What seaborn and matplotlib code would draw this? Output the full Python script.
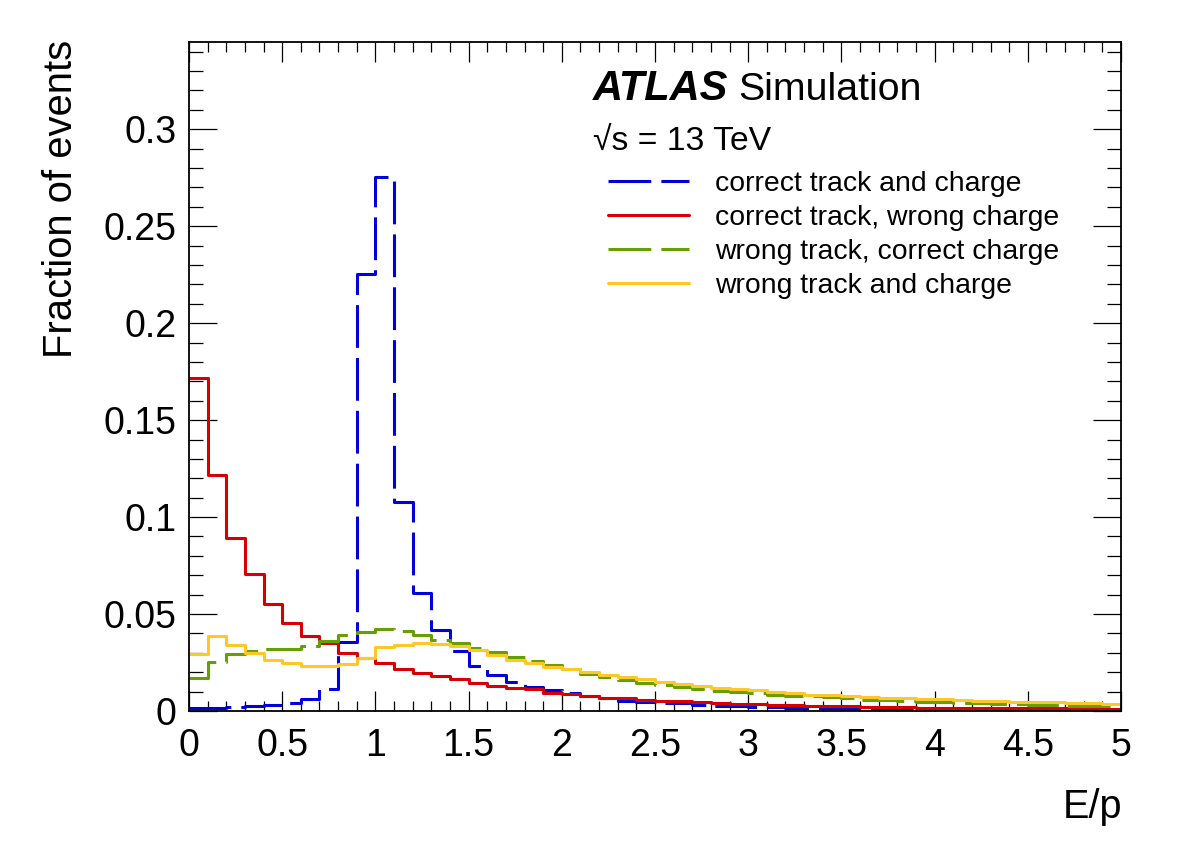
import numpy as np
import pandas as pd
import matplotlib
matplotlib.use("Agg")
import matplotlib.pyplot as plt
import seaborn as sns
from matplotlib.ticker import MultipleLocator, FuncFormatter

sns.set_style("ticks")
plt.rcParams['font.family'] = ['Liberation Sans', 'DejaVu Sans']
plt.rcParams['text.color'] = 'black'
plt.rcParams['xtick.color'] = 'black'
plt.rcParams['ytick.color'] = 'black'

# E/p bins: 50 bins of width 0.1 from 0 to 5
edges = np.linspace(0, 5, 51)
centers = edges[:-1] + 0.05

correct_track_charge = [
    0.0017, 0.0017, 0.0021, 0.0026, 0.0029, 0.0040, 0.0064, 0.0115, 0.0358, 0.2255,
    0.2755, 0.1076, 0.0611, 0.0417, 0.0310, 0.0232, 0.0188, 0.0152, 0.0126, 0.0108,
    0.0091, 0.0077, 0.0065, 0.0053, 0.0045, 0.0043, 0.0040, 0.0031, 0.0027, 0.0026,
    0.0022, 0.0019, 0.0018, 0.0015, 0.0013, 0.0012, 0.0011, 0.0010, 0.0009, 0.0008,
    0.0008, 0.0007, 0.0006, 0.0006, 0.0005, 0.0005, 0.0005, 0.0004, 0.0004, 0.0004]
correct_track_wrong_charge = [
    0.1718, 0.1217, 0.0894, 0.0706, 0.0551, 0.0453, 0.0387, 0.0350, 0.0301, 0.0272,
    0.0250, 0.0215, 0.0198, 0.0181, 0.0164, 0.0146, 0.0131, 0.0117, 0.0112, 0.0095,
    0.0086, 0.0077, 0.0069, 0.0065, 0.0057, 0.0053, 0.0050, 0.0046, 0.0040, 0.0036,
    0.0034, 0.0031, 0.0029, 0.0027, 0.0026, 0.0024, 0.0022, 0.0020, 0.0019, 0.0018,
    0.0017, 0.0016, 0.0016, 0.0015, 0.0015, 0.0014, 0.0014, 0.0013, 0.0012, 0.0012]
wrong_track_correct_charge = [
    0.0172, 0.0253, 0.0296, 0.0310, 0.0319, 0.0322, 0.0336, 0.0362, 0.0394, 0.0405,
    0.0424, 0.0412, 0.0390, 0.0365, 0.0350, 0.0327, 0.0302, 0.0277, 0.0258, 0.0238,
    0.0217, 0.0193, 0.0176, 0.0160, 0.0145, 0.0136, 0.0126, 0.0113, 0.0105, 0.0099,
    0.0091, 0.0084, 0.0079, 0.0076, 0.0071, 0.0066, 0.0059, 0.0057, 0.0052, 0.0047,
    0.0044, 0.0041, 0.0039, 0.0036, 0.0034, 0.0032, 0.0030, 0.0028, 0.0027, 0.0025]
wrong_track_and_charge = [
    0.0293, 0.0387, 0.0339, 0.0301, 0.0262, 0.0245, 0.0232, 0.0234, 0.0243, 0.0275,
    0.0330, 0.0342, 0.0351, 0.0343, 0.0334, 0.0316, 0.0289, 0.0265, 0.0247, 0.0229,
    0.0215, 0.0199, 0.0186, 0.0174, 0.0163, 0.0152, 0.0140, 0.0129, 0.0121, 0.0115,
    0.0106, 0.0098, 0.0091, 0.0085, 0.0082, 0.0077, 0.0072, 0.0069, 0.0066, 0.0063,
    0.0060, 0.0056, 0.0053, 0.0050, 0.0048, 0.0046, 0.0044, 0.0042, 0.0040, 0.0038]

labels = ['correct track and charge', 'correct track, wrong charge',
          'wrong track, correct charge', 'wrong track and charge']
colors = ['#0000dd', '#d60000', '#66a000', '#ffc825']
dashed = (0, (14, 3.3))
styles = [dashed, '-', dashed, '-']
series = [correct_track_charge, correct_track_wrong_charge,
          wrong_track_correct_charge, wrong_track_and_charge]

W, H = 1182, 848
fig = plt.figure(figsize=(W / 100, H / 100), dpi=100)
ax = fig.add_axes([189 / W, 1 - 711 / H, (1121 - 189) / W, (711 - 42) / H])

for vals, lab, col, ls in zip(series, labels, colors, styles):
    df = pd.DataFrame({'Ep': centers, 'frac': vals})
    sns.histplot(data=df, x='Ep', weights='frac', bins=list(edges), element='step',
                 fill=False, color=col, linewidth=2.2, linestyle=ls, label=lab, ax=ax)

ax.set_xlim(0, 5)
ax.set_ylim(0, 0.345)
ax.set_xlabel('')
ax.set_ylabel('')

fmt = FuncFormatter(lambda v, p: '%g' % round(v, 4))
ax.xaxis.set_major_locator(MultipleLocator(0.5))
ax.xaxis.set_minor_locator(MultipleLocator(0.1))
ax.yaxis.set_major_locator(MultipleLocator(0.05))
ax.yaxis.set_minor_locator(MultipleLocator(0.01))
ax.xaxis.set_major_formatter(fmt)
ax.yaxis.set_major_formatter(fmt)

ax.tick_params(which='both', direction='in', top=True, right=True, width=0.9,
               color='black', labelcolor='black', labelsize=27)
ax.tick_params(axis='x', which='major', length=14.4, pad=12)
ax.tick_params(axis='x', which='minor', length=7.2)
ax.tick_params(axis='y', which='major', length=20, pad=9)
ax.tick_params(axis='y', which='minor', length=10)
for sp in ax.spines.values():
    sp.set_linewidth(1.3)
    sp.set_color('black')

fig.text(71.7 / W, 1 - 40 / H, 'Fraction of events', fontsize=28.8, rotation=90,
         rotation_mode='anchor', ha='right', va='baseline')
fig.text(1122 / W, 1 - 818 / H, 'E/p', fontsize=28.5, ha='right', va='baseline')

fig.text(593 / W, 1 - 100 / H, 'ATLAS', fontsize=30, fontweight='bold',
         fontstyle='italic', ha='left', va='baseline')
fig.text(738 / W, 1 - 100 / H, 'Simulation', fontsize=28.3, ha='left', va='baseline')
fig.text(593 / W, 1 - 150.7 / H, '\u221as = 13 TeV', fontsize=24.3, ha='left',
         va='baseline')

ax.legend(loc='upper left', bbox_to_anchor=(608 / W, 1 - 171 / H),
          bbox_transform=fig.transFigure, frameon=False, fontsize=20.4,
          handlelength=2.87, handletextpad=0.9, labelspacing=0.28,
          borderpad=0, borderaxespad=0)

fig.savefig('out.png', dpi=100)
